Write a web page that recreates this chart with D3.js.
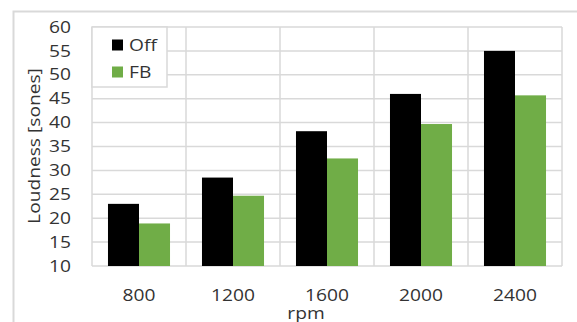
<!DOCTYPE html>
<html><head><meta charset="utf-8">
<script src="https://cdn.jsdelivr.net/npm/d3@7"></script>
<style>html,body{margin:0;padding:0;background:#fff;} svg{display:block;}</style>
</head><body>
<script>
const categories = ["800", "1200", "1600", "2000", "2400"];
const seriesNames = ["Off", "FB"];
const offValues = [23.0, 28.5, 38.2, 46.0, 55.0];
const fbValues = [18.9, 24.7, 32.5, 39.7, 45.7];
const yTicks = [10, 15, 20, 25, 30, 35, 40, 45, 50, 55, 60];
const colors = ["#000000", "#70AD47"];
const yTitle = "Loudness [sones]";
const xTitle = "rpm";

const W = 577, H = 322;
const svg = d3.select("body").append("svg").attr("width", W).attr("height", H);
const font = "'Open Sans', 'Noto Sans', sans-serif";
const textColor = "#333333";
const sx = 1.2;

// outer frame
svg.append("path").attr("d", `M13.5,${H} V11.5 H${W}`).attr("fill","none").attr("stroke","#d9d9d9").attr("stroke-width",2);

const m = {l: 92, t: 27, r: 562, b: 266};
const x = d3.scaleBand().domain(categories).range([m.l, m.r]).paddingInner(0.34).paddingOuter(0.17);
const x1 = d3.scaleBand().domain(seriesNames).range([0, x.bandwidth()]);
const y = d3.scaleLinear().domain([10, 60]).range([m.b, m.t]);

// horizontal grid
svg.append("g").selectAll("line").data(yTicks).join("line")
  .attr("x1", m.l).attr("x2", m.r).attr("y1", d => y(d)).attr("y2", d => y(d))
  .attr("stroke", "#d9d9d9").attr("stroke-width", 1.5);
// vertical grid (category boundaries)
const bounds = d3.range(categories.length + 1).map(i => m.l + i * (m.r - m.l) / categories.length);
svg.append("g").selectAll("line").data(bounds).join("line")
  .attr("x1", d => d).attr("x2", d => d).attr("y1", m.t).attr("y2", m.b)
  .attr("stroke", "#d9d9d9").attr("stroke-width", 1.5);

// bars
const data = categories.map((c, i) => ({c, vals: [offValues[i], fbValues[i]]}));
const g = svg.append("g");
data.forEach(d => {
  d.vals.forEach((v, j) => {
    g.append("rect")
      .attr("x", x(d.c) + x1(seriesNames[j]))
      .attr("y", y(v))
      .attr("width", x1.bandwidth())
      .attr("height", y(10) - y(v))
      .attr("fill", colors[j]);
  });
});

// y axis labels
const yAxis = d3.axisLeft(y).tickValues(yTicks).tickSize(0).tickPadding(0);
const ya = svg.append("g").attr("transform", `translate(71,0)`).call(yAxis);
ya.select(".domain").remove();
ya.selectAll("text").attr("font-family", font).attr("font-size", 16).attr("fill", textColor)
  .attr("dy", "0.35em").attr("x", 0);
ya.selectAll(".tick").each(function(d){
  d3.select(this).attr("transform", `translate(0,${y(d)})`);
  d3.select(this).select("text").attr("transform", `scale(${sx},1)`);
});

// x axis labels
const xAxis = d3.axisBottom(x).tickSize(0).tickPadding(0);
const xa = svg.append("g").attr("transform", `translate(0,295)`).call(xAxis);
xa.select(".domain").remove();
xa.selectAll("text").attr("font-family", font).attr("font-size", 16).attr("fill", textColor)
  .attr("dy", "0.35em").attr("y", 0).attr("transform", `scale(${sx},1)`);

// axis titles
svg.append("text").attr("transform", `translate(306,313) scale(${sx},1)`)
  .attr("text-anchor","middle").attr("dy","0.35em").attr("font-family", font).attr("font-size", 16)
  .attr("fill", textColor).text(xTitle);
svg.append("text").attr("transform", `translate(34,146) rotate(-90) scale(${sx},1)`)
  .attr("text-anchor","middle").attr("dy","0.35em").attr("font-family", font).attr("font-size", 16)
  .attr("fill", textColor).text(yTitle);

// legend
const lg = svg.append("g");
lg.append("rect").attr("x", m.l).attr("y", m.t).attr("width", 75).attr("height", 60)
  .attr("fill", "#fff").attr("stroke", "#d9d9d9").attr("stroke-width", 1.5);
seriesNames.forEach((s, i) => {
  const cy = 45 + i * 27;
  lg.append("rect").attr("x", 112).attr("y", cy - 5.5).attr("width", 11).attr("height", 11).attr("fill", colors[i]);
  lg.append("text").attr("transform", `translate(129,${cy}) scale(${sx},1)`).attr("dy","0.35em")
    .attr("font-family", font).attr("font-size", 16).attr("fill", textColor).text(s);
});
</script>
</body></html>
